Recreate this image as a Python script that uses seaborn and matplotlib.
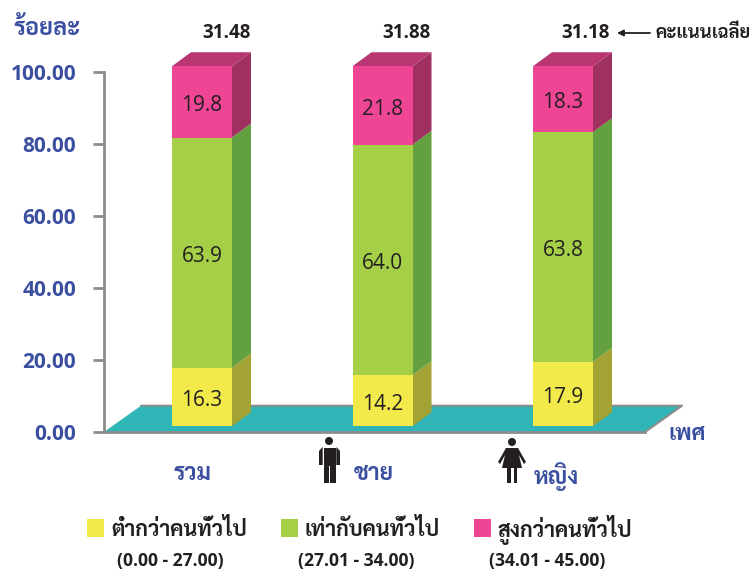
# -*- coding: utf-8 -*-
import matplotlib
matplotlib.use("Agg")
import matplotlib.pyplot as plt
from matplotlib.patches import Polygon, Circle, Rectangle
from matplotlib.transforms import ScaledTranslation
import numpy as np
import seaborn as sns

# data
groups = ["รวม", "ชาย", "หญิง"]
low = [16.3, 14.2, 17.9]
mid = [63.9, 64.0, 63.8]
high = [19.8, 21.8, 18.3]
mean_scores = ["31.48", "31.88", "31.18"]
legend_names = ["ต่ำกว่าคนทั่วไป", "เท่ากับคนทั่วไป", "สูงกว่าคนทั่วไป"]
legend_ranges = ["(0.00 - 27.00)", "(27.01 - 34.00)", "(34.01 - 45.00)"]
y_ticks = [0, 20, 40, 60, 80, 100]

sns.set_theme(style="white")
plt.rcParams["font.family"] = ["Open Sans", "DejaVu Sans"]

THAI = ["Sarabun", "DejaVu Sans"]
W, H = 755, 571
NAVY = "#3B4FA0"
GRAY = "#8C8C8C"
DARK = "#231F20"

fig = plt.figure(figsize=(W / 100, H / 100), dpi=100)
ax = fig.add_axes([104 / W, 139 / H, 541 / W, 360 / H])

# per category / per percent sizes of the fake depth
base = 1.6
side_dx = 19 / 180.5
side_dy = 14 / 3.6
floor_dx = 37 / 180.5
floor_dy = 7.3

series = [
    (low, "#F2EA4A", "#A3A235", None),
    (mid, "#A5CF47", "#63A040", None),
    (high, "#EE4595", "#A03060", "#B83672"),
]

bottom = np.full(3, base)
for values, color, side, top in series:
    sns.barplot(x=groups, y=values, bottom=bottom, color=color, saturation=1,
                width=60 / 180.5, ax=ax, zorder=3, linewidth=0)
    bars = ax.containers[-1]
    for bar, val in zip(bars, values):
        bar.set_clip_on(False)
        x0, x1 = bar.get_x(), bar.get_x() + bar.get_width()
        y0, y1 = bar.get_y(), bar.get_y() + bar.get_height()
        ax.add_patch(Polygon([(x1, y0), (x1 + side_dx, y0 + side_dy),
                              (x1 + side_dx, y1 + side_dy), (x1, y1)],
                             fc=side, ec="none", zorder=2.5, clip_on=False))
        if top:
            ax.add_patch(Polygon([(x0, y1), (x0 + side_dx, y1 + side_dy),
                                  (x1 + side_dx, y1 + side_dy), (x1, y1)],
                                 fc=top, ec="none", zorder=2.5, clip_on=False))
        ax.text((x0 + x1) / 2, (y0 + y1) / 2 - 1, f"{val:.1f}", ha="center", va="center",
                fontsize=15, color=DARK, zorder=4)
    bottom = bottom + np.array(values)

ax.set_xlim(-98 / 180.5, 443 / 180.5)
ax.set_ylim(0, 100)
x_l, x_r = ax.get_xlim()

# teal floor
ax.add_patch(Polygon([(x_l, 0), (x_l + floor_dx, floor_dy), (x_r + floor_dx, floor_dy), (x_r, 0)],
                     fc="#2FB5B5", ec="none", zorder=1, clip_on=False))
ax.plot([x_l + floor_dx, x_r + floor_dx, x_r], [floor_dy, floor_dy, 0], color=GRAY, lw=1.5,
        zorder=1.5, clip_on=False)

sns.despine(ax=ax)
for s in ("left", "bottom"):
    ax.spines[s].set_color(GRAY)
    ax.spines[s].set_linewidth(2)
ax.set_yticks(y_ticks)
ax.set_yticklabels([f"{v:.2f}" for v in y_ticks], fontsize=15, fontweight="bold", color=NAVY)
ax.tick_params(axis="y", length=8, width=2, color=GRAY, pad=12, left=True)
ax.tick_params(axis="x", length=0, pad=22)
ax.set_xlabel("")
ax.set_ylabel("")
for lab, shift in zip(ax.get_xticklabels(), [-9, -9, -7]):
    lab.set_fontsize(16.5)
    lab.set_fontweight("bold")
    lab.set_family(THAI)
    lab.set_color(NAVY)
    lab.set_transform(lab.get_transform() + ScaledTranslation(shift / 100, 0, fig.dpi_scale_trans))

# overlay in image pixels for text and icons
ov = fig.add_axes([0, 0, 1, 1], zorder=5)
ov.set_xlim(0, W)
ov.set_ylim(H, 0)
ov.axis("off")

ov.text(13, 29, "ร้อยละ", fontsize=17, fontweight="bold", family=THAI, color=NAVY, va="center")
ov.text(668, 435, "เพศ", fontsize=16, fontweight="bold", family=THAI, color=NAVY, va="center")
for x, score in zip([251, 431, 610], mean_scores):
    ov.text(x, 33, score, fontsize=13.5, fontweight="bold", color=DARK, ha="right", va="center")
ov.annotate("", xy=(617, 33), xytext=(650, 33),
            arrowprops=dict(arrowstyle="-|>", color=DARK, lw=1.3, mutation_scale=9, shrinkA=0, shrinkB=0))
ov.text(656, 33, "คะแนนเฉลี่ย", fontsize=13.2, fontweight="bold", family=THAI, color=DARK, va="center")

# man
ov.add_patch(Circle((329, 441), 4, fc=DARK, ec="none"))
ov.add_patch(Polygon([(323.5, 447.5), (335.5, 447.5), (335.5, 483), (330.3, 483), (330.3, 466),
                      (328.7, 466), (328.7, 483), (323.5, 483)], fc=DARK, ec="none"))
ov.add_patch(Polygon([(319, 451), (322, 447.5), (322.7, 447.5), (322.7, 465), (319, 465)],
                     fc=DARK, ec="none"))
ov.add_patch(Polygon([(340, 451), (337, 447.5), (336.3, 447.5), (336.3, 465), (340, 465)],
                     fc=DARK, ec="none"))
# woman
ov.add_patch(Circle((512, 442), 4, fc=DARK, ec="none"))
ov.add_patch(Polygon([(506, 448), (518, 448), (526, 462), (524, 464), (519, 455), (522, 468),
                      (502, 468), (505, 455), (500, 464), (498, 462)], fc=DARK, ec="none"))
ov.add_patch(Rectangle((507, 468), 3.5, 15, fc=DARK, ec="none"))
ov.add_patch(Rectangle((513.5, 468), 3.5, 15, fc=DARK, ec="none"))

# legend
for (vals, color, _, _), sq_x, tx, name, rng, rx in zip(series, [87, 281, 474], [111, 305, 497],
                                                        legend_names, legend_ranges, [170, 356, 547]):
    ov.add_patch(Rectangle((sq_x, 519), 17, 18, fc=color, ec="none"))
    ov.text(tx, 530, name, fontsize=15.3, fontweight="bold", family=THAI, color=DARK, va="center")
    ov.text(rx, 561, rng, fontsize=12.6, fontweight="bold", color=DARK, ha="center", va="center")

fig.savefig("out.png", dpi=100)
